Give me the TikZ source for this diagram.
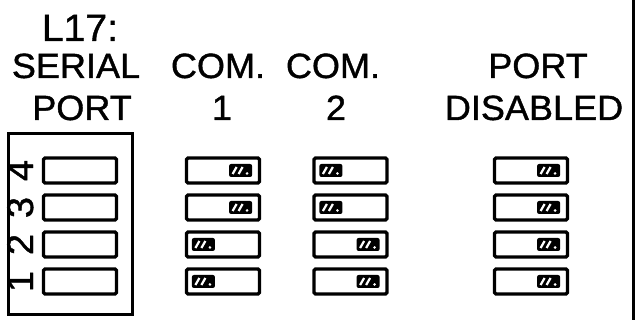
\documentclass[tikz,border=0pt]{standalone}
\usepackage{fontspec}
\setmainfont{Liberation Sans}[FakeStretch=1.03,FakeBold=1.1]
\begin{document}
\begin{tikzpicture}[x=1pt,y=-1pt,
  lbl/.style={anchor=base, inner sep=0, font=\fontsize{35}{40}\selectfont},
  dig/.style={anchor=base, inner sep=0, rotate=90, font=\fontsize{37}{40}\selectfont},
  sw/.style={draw, line width=3.2pt, rounded corners=1.5pt, minimum width=73pt, minimum height=25pt, inner sep=0},
  tabpic/.pic={
    \fill[rounded corners=2pt] (-11.5,-6.5) rectangle (11.5,6.5);
    \draw[white, line width=2.2pt] (-8,3.5) -- (-4,-3.5) (-2,3.5) -- (2,-3.5);
    \fill[white] (6.5,3) circle (1.4);
  }]
\useasboundingbox (0,0) rectangle (641,320);
% labels
\node[lbl, font=\fontsize{38}{40}\selectfont] (t1) at (80,41) {L17:};
\node[lbl] (t2) at (76,78) {SERIAL};
\node[lbl] (t3) at (82,120) {PORT};
\node[lbl] (t4) at (218,78) {COM.};
\node[lbl] (t5) at (222,120) {1};
\node[lbl] (t6) at (333,78) {COM.};
\node[lbl] (t7) at (336,120) {2};
\node[lbl] (t8) at (538,78) {PORT};
\node[lbl] (t9) at (534,120) {DISABLED};
% serial port box
\node[draw, line width=3pt, minimum width=124pt, minimum height=181pt, inner sep=0] (sbox) at (70.5,224) {};
\draw[line width=3pt] (633,0) coordinate (rt) -- (633,320) coordinate (rb);
% switches
\foreach \r/\y in {4/170.5,3/207.5,2/244.5,1/281.5}{
  \node[sw] (s\r) at (80,\y) {};
  \node[dig] (d\r) at (33,\y) {\r};
  \node[sw] (a\r) at (223,\y) {};
  \node[sw] (b\r) at (350.5,\y) {};
  \node[sw] (c\r) at (531,\y) {};
}
% tabs
\foreach \n in {a4,a3,b2,b1,c4,c3,c2,c1}{
  \pic at ([xshift=-20.5pt]\n.east) {tabpic};
}
\foreach \n in {a2,a1,b4,b3}{
  \pic at ([xshift=18.5pt]\n.west) {tabpic};
}
\end{tikzpicture}
\end{document}
